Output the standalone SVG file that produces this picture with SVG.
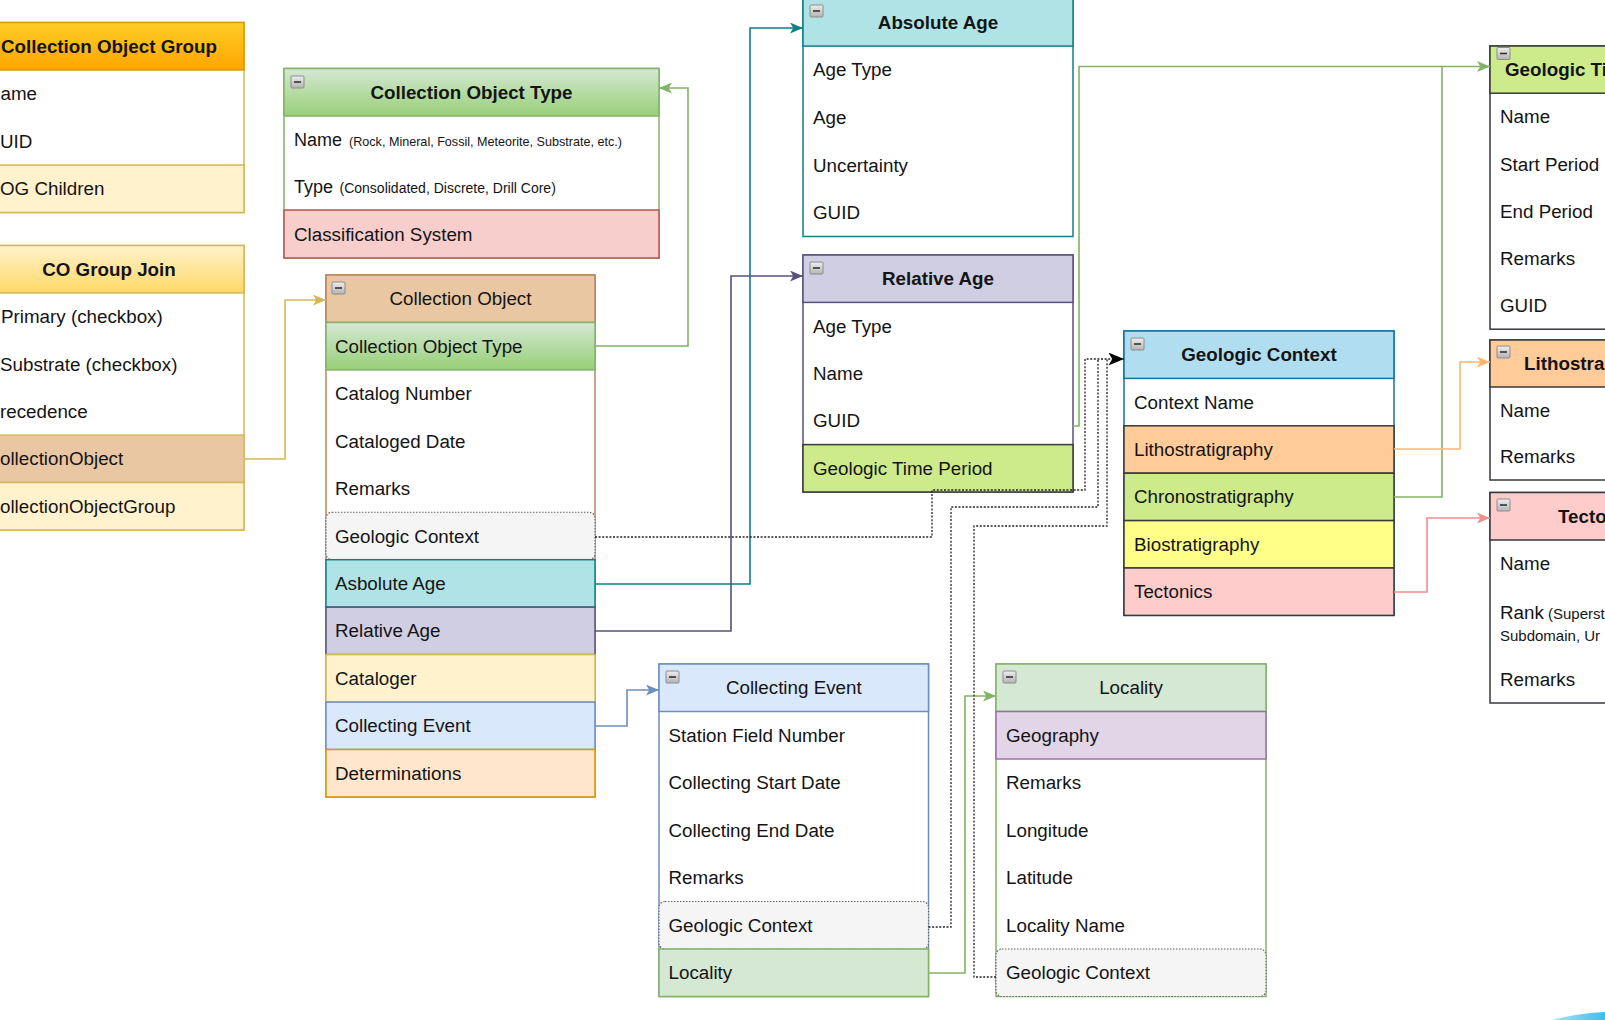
<svg xmlns="http://www.w3.org/2000/svg" width="1605" height="1020" viewBox="0 0 1605 1020">
<style>
.t{font-family:"Liberation Sans",Arial,Helvetica,sans-serif;font-size:18.8px;fill:#141414}
.b{font-weight:bold}
.c{text-anchor:middle}
.s{font-size:12.6px}
.m{font-size:14px}
.r{font-size:15px}
.n{font-size:18px}
.box{stroke-width:1.5}
.dot{fill:#f5f5f5;stroke:#666;stroke-width:1.2;stroke-dasharray:1.5 1.5}
.ln{fill:none;stroke-width:1.6}
.dl{fill:none;stroke:#222;stroke-width:1.3;stroke-dasharray:2 1.6}
</style>
<defs>
<linearGradient id="gOrange" x1="0" y1="0" x2="0" y2="1"><stop offset="0" stop-color="#ffcd28"/><stop offset="1" stop-color="#ffa500"/></linearGradient>
<linearGradient id="gYellow" x1="0" y1="0" x2="0" y2="1"><stop offset="0" stop-color="#fff2cc"/><stop offset="1" stop-color="#ffd966"/></linearGradient>
<linearGradient id="gGreen" x1="0" y1="0" x2="0" y2="1"><stop offset="0" stop-color="#d5e8d4"/><stop offset="1" stop-color="#97d077"/></linearGradient>
<linearGradient id="gIcon" x1="0" y1="0" x2="0" y2="1"><stop offset="0" stop-color="#eeeeee"/><stop offset="1" stop-color="#b4b4b4"/></linearGradient>
<linearGradient id="gArc" x1="0" y1="0" x2="1" y2="0"><stop offset="0" stop-color="#a9e4f6"/><stop offset="1" stop-color="#3fbde8"/></linearGradient>
<g id="minus"><rect width="13" height="12" rx="1" fill="url(#gIcon)" stroke="#8c8c8c" stroke-width="1"/><line x1="3" y1="6" x2="10" y2="6" stroke="#333" stroke-width="1.6"/></g>
<marker id="aGold" viewBox="0 0 12 10" refX="12" refY="5" markerWidth="13" markerHeight="11" markerUnits="userSpaceOnUse" orient="auto"><path d="M0,0 L12,5 L0,10 L3,5 Z" fill="#d6b656"/></marker>
<marker id="aGreen" viewBox="0 0 12 10" refX="12" refY="5" markerWidth="13" markerHeight="11" markerUnits="userSpaceOnUse" orient="auto"><path d="M0,0 L12,5 L0,10 L3,5 Z" fill="#82b366"/></marker>
<marker id="aTeal" viewBox="0 0 12 10" refX="12" refY="5" markerWidth="13" markerHeight="11" markerUnits="userSpaceOnUse" orient="auto"><path d="M0,0 L12,5 L0,10 L3,5 Z" fill="#0e8088"/></marker>
<marker id="aPurple" viewBox="0 0 12 10" refX="12" refY="5" markerWidth="13" markerHeight="11" markerUnits="userSpaceOnUse" orient="auto"><path d="M0,0 L12,5 L0,10 L3,5 Z" fill="#56517e"/></marker>
<marker id="aOrange" viewBox="0 0 12 10" refX="12" refY="5" markerWidth="13" markerHeight="11" markerUnits="userSpaceOnUse" orient="auto"><path d="M0,0 L12,5 L0,10 L3,5 Z" fill="#ffb570"/></marker>
<marker id="aPink" viewBox="0 0 12 10" refX="12" refY="5" markerWidth="13" markerHeight="11" markerUnits="userSpaceOnUse" orient="auto"><path d="M0,0 L12,5 L0,10 L3,5 Z" fill="#ef8f8f"/></marker>
<marker id="aBlue" viewBox="0 0 12 10" refX="12" refY="5" markerWidth="13" markerHeight="11" markerUnits="userSpaceOnUse" orient="auto"><path d="M0,0 L12,5 L0,10 L3,5 Z" fill="#6c8ebf"/></marker>
<marker id="aBlack" viewBox="0 0 12 10" refX="12" refY="5" markerWidth="16" markerHeight="13" markerUnits="userSpaceOnUse" orient="auto"><path d="M0,0 L12,5 L0,10 L3,5 Z" fill="#000"/></marker>
</defs>
<rect width="1605" height="1020" fill="#fff"/>

<g id="collection-object-group">
<rect class="box" x="-26" y="22.5" width="270" height="190" fill="#fff" stroke="#d6b656"/>
<rect class="box" x="-26" y="22.5" width="270" height="47.5" fill="url(#gOrange)" stroke="#d79b00"/>
<rect class="box" x="-26" y="165" width="270" height="47.5" fill="#fff2cc" stroke="#d6b656"/>
<text class="t b c" x="109" y="52.8">Collection Object Group</text>
<text class="t" x="0.5" y="100.3">ame</text>
<text class="t" x="0" y="147.8">UID</text>
<text class="t" x="0" y="195.3">OG Children</text>
</g>

<g id="co-group-join">
<rect class="box" x="-26" y="245.5" width="270" height="284.5" fill="#fff" stroke="#d6b656"/>
<rect class="box" x="-26" y="245.5" width="270" height="47.4" fill="url(#gYellow)" stroke="#d6b656"/>
<rect class="box" x="-26" y="435.1" width="270" height="47.4" fill="#e9c7a3" stroke="#d6b656"/>
<rect class="box" x="-26" y="482.5" width="270" height="47.5" fill="#fff2cc" stroke="#d6b656"/>
<text class="t b c" x="109" y="275.7">CO Group Join</text>
<text class="t" x="1" y="323.1">Primary (checkbox)</text>
<text class="t" x="0" y="370.5">Substrate (checkbox)</text>
<text class="t" x="0" y="417.9">recedence</text>
<text class="t" x="0" y="465.3">ollectionObject</text>
<text class="t" x="0" y="512.7">ollectionObjectGroup</text>
</g>

<g id="collection-object-type">
<rect class="box" x="284" y="68.5" width="375" height="189.5" fill="#fff" stroke="#82b366"/>
<rect class="box" x="284" y="68.5" width="375" height="47.5" fill="url(#gGreen)" stroke="#82b366"/>
<rect class="box" x="284" y="210" width="375" height="48" fill="#f8cecc" stroke="#b85450"/>
<use href="#minus" x="291" y="76"/>
<text class="t b c" x="471.5" y="98.8">Collection Object Type</text>
<text class="t n" x="294" y="146"><tspan>Name</tspan><tspan class="s" x="349">(Rock, Mineral, Fossil, Meteorite, Substrate, etc.)</tspan></text>
<text class="t n" x="294" y="193"><tspan>Type</tspan><tspan class="m" x="339.5">(Consolidated, Discrete, Drill Core)</tspan></text>
<text class="t" x="294" y="240.5">Classification System</text>
</g>

<g id="collection-object">
<rect class="box" x="326" y="275" width="269" height="522" fill="#fff" stroke="#b9865b"/>
<rect class="box" x="326" y="275" width="269" height="47.45" fill="#e9c7a3" stroke="#b9865b"/>
<rect class="box" x="326" y="322.45" width="269" height="47.45" fill="url(#gGreen)" stroke="#82b366"/>
<rect class="dot" x="326" y="512.25" width="269" height="47.45" rx="6"/>
<rect class="box" x="326" y="559.7" width="269" height="47.45" fill="#b0e3e6" stroke="#0e8088"/>
<rect class="box" x="326" y="607.15" width="269" height="47.45" fill="#d0cee2" stroke="#56517e"/>
<rect class="box" x="326" y="654.6" width="269" height="47.45" fill="#fff2cc" stroke="#d6b656"/>
<rect class="box" x="326" y="702.05" width="269" height="47.45" fill="#dae8fc" stroke="#6c8ebf"/>
<rect class="box" x="326" y="749.5" width="269" height="47.45" fill="#ffe6cc" stroke="#d79b00"/>
<use href="#minus" x="332" y="282"/>
<text class="t c" x="460.5" y="305.2">Collection Object</text>
<text class="t" x="335" y="352.7">Collection Object Type</text>
<text class="t" x="335" y="400.1">Catalog Number</text>
<text class="t" x="335" y="447.6">Cataloged Date</text>
<text class="t" x="335" y="495">Remarks</text>
<text class="t" x="335" y="542.5" fill="#333">Geologic Context</text>
<text class="t" x="335" y="589.9">Asbolute Age</text>
<text class="t" x="335" y="637.4">Relative Age</text>
<text class="t" x="335" y="684.8">Cataloger</text>
<text class="t" x="335" y="732.3">Collecting Event</text>
<text class="t" x="335" y="779.7">Determinations</text>
</g>

<g id="absolute-age">
<rect class="box" x="803" y="-1.5" width="270" height="238" fill="#fff" stroke="#0e8088"/>
<rect class="box" x="803" y="-1.5" width="270" height="47.6" fill="#b0e3e6" stroke="#0e8088"/>
<use href="#minus" x="810" y="5"/>
<text class="t b c" x="938" y="28.8">Absolute Age</text>
<text class="t" x="813" y="76.4">Age Type</text>
<text class="t" x="813" y="124">Age</text>
<text class="t" x="813" y="171.6">Uncertainty</text>
<text class="t" x="813" y="219.2">GUID</text>
</g>

<g id="relative-age">
<rect class="box" x="803" y="255" width="270" height="237" fill="#fff" stroke="#56517e"/>
<rect class="box" x="803" y="255" width="270" height="47.4" fill="#d0cee2" stroke="#56517e"/>
<rect class="box" x="803" y="444.6" width="270" height="47.4" fill="#cdeb8b" stroke="#36393d"/>
<use href="#minus" x="810" y="262"/>
<text class="t b c" x="938" y="285.2">Relative Age</text>
<text class="t" x="813" y="332.6">Age Type</text>
<text class="t" x="813" y="380">Name</text>
<text class="t" x="813" y="427.4">GUID</text>
<text class="t" x="813" y="474.8">Geologic Time Period</text>
</g>

<g id="geologic-context">
<rect class="box" x="1124" y="331" width="270" height="284.4" fill="#fff" stroke="#10739e"/>
<rect class="box" x="1124" y="331" width="270" height="47.4" fill="#b1ddf0" stroke="#10739e"/>
<rect class="box" x="1124" y="425.8" width="270" height="47.4" fill="#ffcc99" stroke="#36393d"/>
<rect class="box" x="1124" y="473.2" width="270" height="47.4" fill="#cdeb8b" stroke="#36393d"/>
<rect class="box" x="1124" y="520.6" width="270" height="47.4" fill="#ffff88" stroke="#36393d"/>
<rect class="box" x="1124" y="568" width="270" height="47.4" fill="#ffcccc" stroke="#36393d"/>
<use href="#minus" x="1131" y="338"/>
<text class="t b c" x="1259" y="361.2">Geologic Context</text>
<text class="t" x="1134" y="408.6">Context Name</text>
<text class="t" x="1134" y="456">Lithostratigraphy</text>
<text class="t" x="1134" y="503.4">Chronostratigraphy</text>
<text class="t" x="1134" y="550.8">Biostratigraphy</text>
<text class="t" x="1134" y="598.2">Tectonics</text>
</g>

<g id="collecting-event">
<rect class="box" x="659" y="664" width="269.5" height="332.5" fill="#fff" stroke="#6c8ebf"/>
<rect class="box" x="659" y="664" width="269.5" height="47.5" fill="#dae8fc" stroke="#6c8ebf"/>
<rect class="dot" x="659" y="901.5" width="269.5" height="47.5" rx="6"/>
<rect class="box" x="659" y="949" width="269.5" height="47.5" fill="#d5e8d4" stroke="#82b366"/>
<use href="#minus" x="666" y="671"/>
<text class="t c" x="793.8" y="694.3">Collecting Event</text>
<text class="t" x="668.5" y="741.8">Station Field Number</text>
<text class="t" x="668.5" y="789.3">Collecting Start Date</text>
<text class="t" x="668.5" y="836.8">Collecting End Date</text>
<text class="t" x="668.5" y="884.3">Remarks</text>
<text class="t" x="668.5" y="931.8" fill="#333">Geologic Context</text>
<text class="t" x="668.5" y="979.3">Locality</text>
</g>

<g id="locality">
<rect class="box" x="996" y="664" width="270" height="332.5" fill="#fff" stroke="#82b366"/>
<rect class="box" x="996" y="664" width="270" height="47.5" fill="#d5e8d4" stroke="#82b366"/>
<rect class="box" x="996" y="711.5" width="270" height="47.5" fill="#e1d5e7" stroke="#9673a6"/>
<rect class="dot" x="996" y="949" width="270" height="47.5" rx="6"/>
<use href="#minus" x="1003" y="671"/>
<text class="t c" x="1131" y="694.3">Locality</text>
<text class="t" x="1006" y="741.8">Geography</text>
<text class="t" x="1006" y="789.3">Remarks</text>
<text class="t" x="1006" y="836.8">Longitude</text>
<text class="t" x="1006" y="884.3">Latitude</text>
<text class="t" x="1006" y="931.8">Locality Name</text>
<text class="t" x="1006" y="979.3" fill="#333">Geologic Context</text>
</g>

<g id="geologic-time-period">
<rect class="box" x="1490" y="46" width="200" height="283.2" fill="#fff" stroke="#36393d"/>
<rect class="box" x="1490" y="46" width="200" height="47.2" fill="#cdeb8b" stroke="#36393d"/>
<text class="t b" x="1505" y="76">Geologic Ti</text>
<use href="#minus" x="1497" y="47.5"/>
<text class="t" x="1500" y="123.3">Name</text>
<text class="t" x="1500" y="170.5">Start Period</text>
<text class="t" x="1500" y="217.7">End Period</text>
<text class="t" x="1500" y="264.9">Remarks</text>
<text class="t" x="1500" y="312.1">GUID</text>
</g>

<g id="lithostratigraphy">
<rect class="box" x="1490" y="340" width="200" height="140" fill="#fff" stroke="#36393d"/>
<rect class="box" x="1490" y="340" width="200" height="47" fill="#ffcc99" stroke="#36393d"/>
<use href="#minus" x="1497" y="346"/>
<text class="t b" x="1524" y="370">Lithostra</text>
<text class="t" x="1500" y="416.8">Name</text>
<text class="t" x="1500" y="463.3">Remarks</text>
</g>

<g id="tectonics">
<rect class="box" x="1490" y="492.5" width="200" height="210.5" fill="#fff" stroke="#36393d"/>
<rect class="box" x="1490" y="492.5" width="200" height="47.5" fill="#ffcccc" stroke="#36393d"/>
<use href="#minus" x="1497" y="499"/>
<text class="t b" x="1558" y="522.8">Tecto</text>
<text class="t" x="1500" y="569.5">Name</text>
<text class="t" x="1500" y="618.7"><tspan>Rank</tspan><tspan class="r" x="1548">(Superst</tspan></text>
<text class="t r" x="1500" y="641">Subdomain, Ur</text>
<text class="t" x="1500" y="686">Remarks</text>
</g>

<g id="connectors">
<path class="ln" stroke="#d6b656" d="M244,459 H285 V300 H326" marker-end="url(#aGold)"/>
<path class="ln" stroke="#82b366" d="M595,346 H688 V88 H659" marker-end="url(#aGreen)"/>
<path class="ln" stroke="#0e8088" d="M595,584 H750 V28 H803" marker-end="url(#aTeal)"/>
<path class="ln" stroke="#56517e" d="M595,631 H731 V276 H803" marker-end="url(#aPurple)"/>
<path class="ln" stroke="#82b366" d="M1073,426 H1079 V66.5 H1490" marker-end="url(#aGreen)"/>
<path class="ln" stroke="#82b366" d="M1394,497 H1442 V66.5"/>
<path class="ln" stroke="#ffb570" d="M1394,449 H1460 V362 H1490" marker-end="url(#aOrange)"/>
<path class="ln" stroke="#ef8f8f" d="M1394,592 H1427 V518 H1490" marker-end="url(#aPink)"/>
<path class="ln" stroke="#6c8ebf" d="M595,726 H627 V690 H659" marker-end="url(#aBlue)"/>
<path class="ln" stroke="#82b366" d="M928.5,973 H965 V696 H996" marker-end="url(#aGreen)"/>
<path class="dl" d="M595,537 H932 V490 H1085 V359 H1124" marker-end="url(#aBlack)"/>
<path class="dl" d="M928.5,927 H951 V507 H1098 V359"/>
<path class="dl" d="M996,977 H974 V526 H1107 V359"/>
</g>

<path d="M1552,1020 Q1578,1013 1605,1012 L1605,1020 Z" fill="url(#gArc)"/>
</svg>
